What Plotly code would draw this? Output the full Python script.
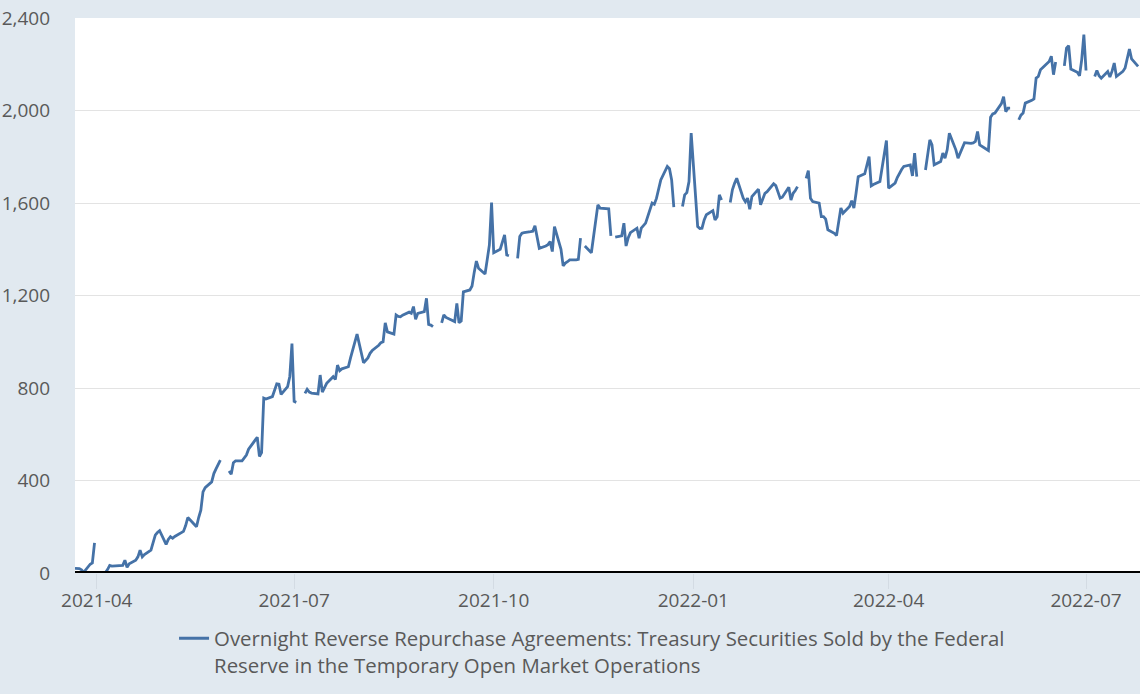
import plotly.graph_objects as go

# Daily observations (billions of US dollars); None = no observation (holiday)
dates_2021 = [
    "2021-03-22", "2021-03-23", "2021-03-24", "2021-03-25", "2021-03-26", "2021-03-29", "2021-03-30", "2021-03-31",
    "2021-04-01", "2021-04-02", "2021-04-05", "2021-04-06", "2021-04-07", "2021-04-08", "2021-04-09",
    "2021-04-12", "2021-04-13", "2021-04-14", "2021-04-15", "2021-04-16", "2021-04-19", "2021-04-20", "2021-04-21",
    "2021-04-22", "2021-04-23", "2021-04-26", "2021-04-27", "2021-04-28", "2021-04-29", "2021-04-30",
    "2021-05-03", "2021-05-04", "2021-05-05", "2021-05-06", "2021-05-07", "2021-05-10", "2021-05-11", "2021-05-12",
    "2021-05-13", "2021-05-14", "2021-05-17", "2021-05-18", "2021-05-19", "2021-05-20", "2021-05-21",
    "2021-05-24", "2021-05-25", "2021-05-26", "2021-05-27", "2021-05-28", "2021-05-31",
    "2021-06-01", "2021-06-02", "2021-06-03", "2021-06-04", "2021-06-07", "2021-06-08", "2021-06-09", "2021-06-10",
    "2021-06-11", "2021-06-14", "2021-06-15", "2021-06-16", "2021-06-17", "2021-06-18", "2021-06-21", "2021-06-22",
    "2021-06-23", "2021-06-24", "2021-06-25", "2021-06-28", "2021-06-29", "2021-06-30",
    "2021-07-01", "2021-07-02", "2021-07-05", "2021-07-06", "2021-07-07", "2021-07-08", "2021-07-09",
    "2021-07-12", "2021-07-13", "2021-07-14", "2021-07-15", "2021-07-16", "2021-07-19", "2021-07-20", "2021-07-21",
    "2021-07-22", "2021-07-23", "2021-07-26", "2021-07-27", "2021-07-28", "2021-07-29", "2021-07-30",
    "2021-08-02", "2021-08-03", "2021-08-04", "2021-08-05", "2021-08-06", "2021-08-09", "2021-08-10", "2021-08-11",
    "2021-08-12", "2021-08-13", "2021-08-16", "2021-08-17", "2021-08-18", "2021-08-19", "2021-08-20",
    "2021-08-23", "2021-08-24", "2021-08-25", "2021-08-26", "2021-08-27", "2021-08-30", "2021-08-31",
    "2021-09-01", "2021-09-02", "2021-09-03", "2021-09-06", "2021-09-07", "2021-09-08", "2021-09-09", "2021-09-10",
    "2021-09-13", "2021-09-14", "2021-09-15", "2021-09-16", "2021-09-17", "2021-09-20", "2021-09-21", "2021-09-22",
    "2021-09-23", "2021-09-24", "2021-09-27", "2021-09-28", "2021-09-29", "2021-09-30",
    "2021-10-01", "2021-10-04", "2021-10-05", "2021-10-06", "2021-10-07", "2021-10-08", "2021-10-11", "2021-10-12",
    "2021-10-13", "2021-10-14", "2021-10-15", "2021-10-18", "2021-10-19", "2021-10-20", "2021-10-21", "2021-10-22",
    "2021-10-25", "2021-10-26", "2021-10-27", "2021-10-28", "2021-10-29",
    "2021-11-01", "2021-11-02", "2021-11-03", "2021-11-04", "2021-11-05", "2021-11-08", "2021-11-09", "2021-11-10",
    "2021-11-11", "2021-11-12", "2021-11-15", "2021-11-16", "2021-11-17", "2021-11-18", "2021-11-19",
    "2021-11-22", "2021-11-23", "2021-11-24", "2021-11-25", "2021-11-26", "2021-11-29", "2021-11-30",
    "2021-12-01", "2021-12-02", "2021-12-03", "2021-12-06", "2021-12-07", "2021-12-08", "2021-12-09", "2021-12-10",
    "2021-12-13", "2021-12-14", "2021-12-15", "2021-12-16", "2021-12-17", "2021-12-20", "2021-12-21", "2021-12-22",
    "2021-12-23", "2021-12-24", "2021-12-27", "2021-12-28", "2021-12-29", "2021-12-30", "2021-12-31",
]
values_2021 = [
    20, 20, 19, 14, 3, 38, 44, 130,
    None, 0, 2, 15, 33, 30, 30,
    30, 33, 55, 25, 40, 55, 70, 99,
    70, 80, 99, 135, 164, 175, 183,
    124, 145, 157, 150, 158, 175, 180, 205,
    240, 230, 200, 240, 272, 351, 369,
    394, 430, 450, 468, 488, None,
    441, 427, 477, 485, 485, 500, 510, 535,
    548, 587, 504, 521, 756, 752, 763, 790,
    818, 816, 772, 806, 850, 992,
    742, 738, None, 777, 794, 782, 778,
    774, 856, 782, 800, 820, 849, 837, 899,
    875, 883, 892, 930, 965, 1000, 1033,
    909, 920, 930, 950, 962, 985, 996, 1000,
    1082, 1043, 1033, 1116, 1110, 1108, 1115,
    1128, 1123, 1152, 1097, 1123, 1130, 1188,
    1075, 1072, 1065, None, 1082, 1116, 1105, 1101,
    1087, 1166, 1082, 1090, 1216, 1224, 1241, 1300,
    1349, 1318, 1293, 1355, 1419, 1602,
    1385, 1400, 1430, 1462, 1375, 1372, None, 1361,
    1455, 1469, 1472, 1476, 1478, 1501, 1450, 1404,
    1414, 1420, 1433, 1390, 1498,
    1400, 1328, 1340, 1346, 1354, 1354, 1356, 1448,
    None, 1414, 1385, 1454, 1523, 1592, 1578,
    1576, 1575, 1458, None, 1452, 1458, 1513,
    1414, 1450, 1472, 1491, 1448, 1491, 1500, 1513,
    1600, 1595, 1620, 1660, 1700, 1758, 1748, 1700,
    1582, None, 1585, 1635, 1645, 1693, 1902,
]

dates_2022 = [
    "2022-01-03", "2022-01-04", "2022-01-05", "2022-01-06", "2022-01-07", "2022-01-10", "2022-01-11", "2022-01-12",
    "2022-01-13", "2022-01-14", "2022-01-17", "2022-01-18", "2022-01-19", "2022-01-20", "2022-01-21",
    "2022-01-24", "2022-01-25", "2022-01-26", "2022-01-27", "2022-01-28", "2022-01-31",
    "2022-02-01", "2022-02-02", "2022-02-03", "2022-02-04", "2022-02-07", "2022-02-08", "2022-02-09", "2022-02-10",
    "2022-02-11", "2022-02-14", "2022-02-15", "2022-02-16", "2022-02-17", "2022-02-18", "2022-02-21",
    "2022-02-22", "2022-02-23", "2022-02-24", "2022-02-25", "2022-02-28",
    "2022-03-01", "2022-03-02", "2022-03-03", "2022-03-04", "2022-03-07", "2022-03-08", "2022-03-09", "2022-03-10",
    "2022-03-11", "2022-03-14", "2022-03-15", "2022-03-16", "2022-03-17", "2022-03-18", "2022-03-21", "2022-03-22",
    "2022-03-23", "2022-03-24", "2022-03-25", "2022-03-28", "2022-03-29", "2022-03-30", "2022-03-31",
    "2022-04-01", "2022-04-04", "2022-04-05", "2022-04-06", "2022-04-07", "2022-04-08", "2022-04-11", "2022-04-12",
    "2022-04-13", "2022-04-14", "2022-04-15", "2022-04-18", "2022-04-19", "2022-04-20", "2022-04-21", "2022-04-22",
    "2022-04-25", "2022-04-26", "2022-04-27", "2022-04-28", "2022-04-29",
    "2022-05-02", "2022-05-03", "2022-05-04", "2022-05-05", "2022-05-06", "2022-05-09", "2022-05-10", "2022-05-11",
    "2022-05-12", "2022-05-13", "2022-05-16", "2022-05-17", "2022-05-18", "2022-05-19", "2022-05-20",
    "2022-05-23", "2022-05-24", "2022-05-25", "2022-05-26", "2022-05-27", "2022-05-30", "2022-05-31",
    "2022-06-01", "2022-06-02", "2022-06-03", "2022-06-06", "2022-06-07", "2022-06-08", "2022-06-09", "2022-06-10",
    "2022-06-13", "2022-06-14", "2022-06-15", "2022-06-16", "2022-06-17", "2022-06-20", "2022-06-21", "2022-06-22",
    "2022-06-23", "2022-06-24", "2022-06-27", "2022-06-28", "2022-06-29", "2022-06-30",
    "2022-07-01", "2022-07-04", "2022-07-05", "2022-07-06", "2022-07-07", "2022-07-08", "2022-07-11", "2022-07-12",
    "2022-07-13", "2022-07-14", "2022-07-15", "2022-07-18", "2022-07-19", "2022-07-20", "2022-07-21", "2022-07-22",
    "2022-07-25",
]
values_2022 = [
    1498, 1490, 1491, 1527, 1549, 1567, 1527, 1541,
    1635, 1613, None, 1602, 1657, 1685, 1707,
    1621, 1605, 1621, 1573, 1628, 1660,
    1592, 1620, 1642, 1649, 1683, 1675, 1650, 1621,
    1625, 1668, 1613, 1642, 1654, 1671, None,
    1707, 1740, 1620, 1606, 1599,
    1541, 1541, 1530, 1484, 1469, 1459, 1527, 1578,
    1556, 1585, 1610, 1578, 1642, 1714, 1726, 1765,
    1801, 1674, 1680, 1693, 1758, 1810, 1870,
    1664, 1686, 1710, 1729, 1745, 1758, 1765, 1717,
    1816, 1714, None, 1743, 1800, 1873, 1851, 1765,
    1779, 1816, 1794, 1830, 1902,
    1830, 1794, 1816, 1840, 1861, 1858, 1860, 1866,
    1909, 1851, 1835, 1827, 1971, 1985, 1989,
    2030, 2060, 1995, 2010, 2010, None, 1960,
    1980, 1989, 2032, 2044, 2050, 2140, 2147, 2176,
    2200, 2212, 2235, 2155, 2210, None, 2193, 2270,
    2280, 2179, 2165, 2150, 2219, 2328,
    2173, None, 2147, 2173, 2150, 2140, 2169, 2145,
    2170, 2205, 2147, 2169, 2184, 2220, 2266, 2223,
    2191,
]

series_name = ("Overnight Reverse Repurchase Agreements: Treasury Securities Sold by the Federal"
               "<br>Reserve in the Temporary Open Market Operations")

y_ticks = [0, 400, 800, 1200, 1600, 2000, 2400]

BG = "#e1e9f0"
TXT = "#595959"
LINE = "#4572a7"

fig = go.Figure()
fig.add_trace(go.Scatter(
    x=dates_2021 + dates_2022,
    y=values_2021 + values_2022,
    mode="lines",
    name=series_name,
    line=dict(color=LINE, width=2.8),
    connectgaps=False,
))

fig.update_layout(
    width=1140, height=694,
    paper_bgcolor=BG, plot_bgcolor="#ffffff",
    margin=dict(l=75, r=0, t=18, b=121, autoexpand=False),
    font=dict(family="Open Sans", size=19, color=TXT),
    showlegend=True,
    legend=dict(
        orientation="h", x=0.093, xanchor="left", y=-0.082, yanchor="top",
        bgcolor="rgba(0,0,0,0)", valign="top", font=dict(size=20.4, color=TXT),
    ),
    xaxis=dict(
        type="date", range=["2021-03-22", "2022-07-25T21:00"],
        tick0="2021-01-01", dtick="M3", tickformat="%Y-%m",
        ticks="outside", ticklen=15, tickcolor="#d3dbe3", tickwidth=1,
        ticklabelstandoff=-5,
        showgrid=False, showline=False, zeroline=False,
        tickfont=dict(size=19, color=TXT),
    ),
    yaxis=dict(
        range=[0, 2400], tickvals=y_ticks, tickformat=",",
        showgrid=True, gridcolor="#e3e3e3", gridwidth=1,
        zeroline=False, showline=False, ticks="",
        ticklabelstandoff=24,
        tickfont=dict(size=19, color=TXT),
    ),
    shapes=[dict(type="line", xref="paper", x0=0, x1=1, yref="y", y0=0, y1=0,
                 line=dict(color="#000000", width=4), layer="above")],
)

fig.write_html(
    "out.html",
    config={"displayModeBar": False},
    post_script="document.body.style.margin='0';document.body.style.overflow='hidden';",
)
